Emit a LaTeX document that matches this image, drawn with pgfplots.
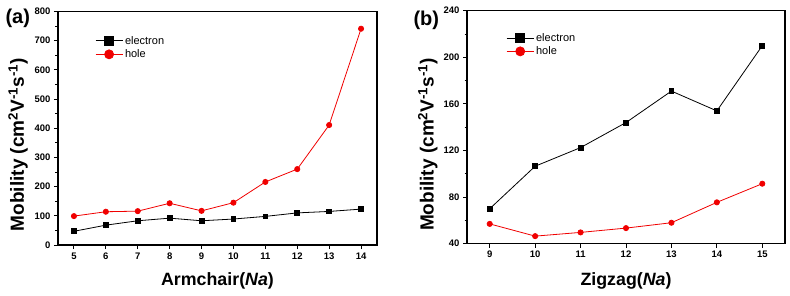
\documentclass[border=0pt]{standalone}
\usepackage{fontspec}
\setmainfont{Liberation Sans}
\usepackage{pgfplots}
\pgfplotsset{compat=1.18}
\definecolor{myred}{RGB}{240,0,0}
\pgfplotsset{
  mystyle/.style={
    scale only axis, anchor=south west,
    axis line style={line width=1.2pt},
    every tick/.style={line width=1pt, black},
    tick align=outside, tick pos=left,
    major tick length=4pt, minor tick length=2.5pt,
    minor y tick num=1,
    ticklabel style={font=\fontsize{9.5}{10}\selectfont\bfseries},
    /pgf/number format/assume math mode=true,
    xlabel style={font=\fontsize{17.8}{20}\selectfont\bfseries},
    ylabel style={font=\fontsize{19}{21}\selectfont\bfseries},
    legend style={draw=none, fill=none, font=\fontsize{11}{13}\selectfont, row sep=0pt, inner sep=0pt, anchor=north west},
    legend cell align=left,
    legend image code/.code={\draw[mark repeat=2,mark phase=2,##1,mark size=4.5pt] plot coordinates {(0pt,0pt) (13.5pt,0pt) (27pt,0pt)};},
  },
  elec/.style={black, line width=0.8pt, mark=square*, mark size=2.4pt, mark options={solid}},
  hole/.style={myred, line width=0.8pt, mark=*, mark size=2.6pt, mark options={solid}},
}
\begin{document}
\begin{tikzpicture}[x=1pt,y=1pt]
\useasboundingbox (0,0) rectangle (790,295);
\begin{axis}[mystyle, at={(58pt,50pt)}, width=319pt, height=233.5pt,
  xmin=4.5, xmax=14.5, ymin=0, ymax=800,
  xtick={5,...,14}, ytick={0,100,...,800},
  xlabel={Armchair(\textit{Na})},
  ylabel={Mobility (cm\textsuperscript{2}V\textsuperscript{-1}s\textsuperscript{-1})},
  xlabel style={at={(axis description cs:0.5,-0.154)}, anchor=center},
  ylabel style={at={(axis description cs:-0.125,0.43)}, anchor=center},
  legend style={at={(axis description cs:0.116,0.904)}},
]
\addplot[elec] coordinates {(5,47) (6,68) (7,83) (8,92) (9,83) (10,89) (11,98) (12,110) (13,115) (14,123)};
\addlegendentry{electron}
\addplot[hole] coordinates {(5,99) (6,114) (7,116) (8,143) (9,117) (10,145) (11,216) (12,260) (13,411) (14,741)};
\addlegendentry{hole}
\end{axis}
\begin{axis}[mystyle, at={(467pt,51.3pt)}, width=318pt, height=233pt,
  xmin=8.5, xmax=15.5, ymin=40, ymax=240,
  xtick={9,...,15}, ytick={40,80,...,240},
  xlabel={Zigzag(\textit{Na})},
  ylabel={Mobility (cm\textsuperscript{2}V\textsuperscript{-1}s\textsuperscript{-1})},
  xlabel style={at={(axis description cs:0.5,-0.159)}, anchor=center},
  ylabel style={at={(axis description cs:-0.123,0.426)}, anchor=center},
  legend style={at={(axis description cs:0.123,0.913)}},
]
\addplot[elec] coordinates {(9,70) (10,106.5) (11,122.5) (12,144) (13,171) (14,154) (15,210)};
\addlegendentry{electron}
\addplot[hole] coordinates {(9,57) (10,46.5) (11,49.7) (12,53.4) (13,58) (14,75.5) (15,91.5)};
\addlegendentry{hole}
\end{axis}
\node[anchor=west, font=\fontsize{20}{22}\selectfont\bfseries] at (2,277) {(a)};
\node[anchor=west, font=\fontsize{20}{22}\selectfont\bfseries] at (410,275) {(b)};
\end{tikzpicture}
\end{document}
